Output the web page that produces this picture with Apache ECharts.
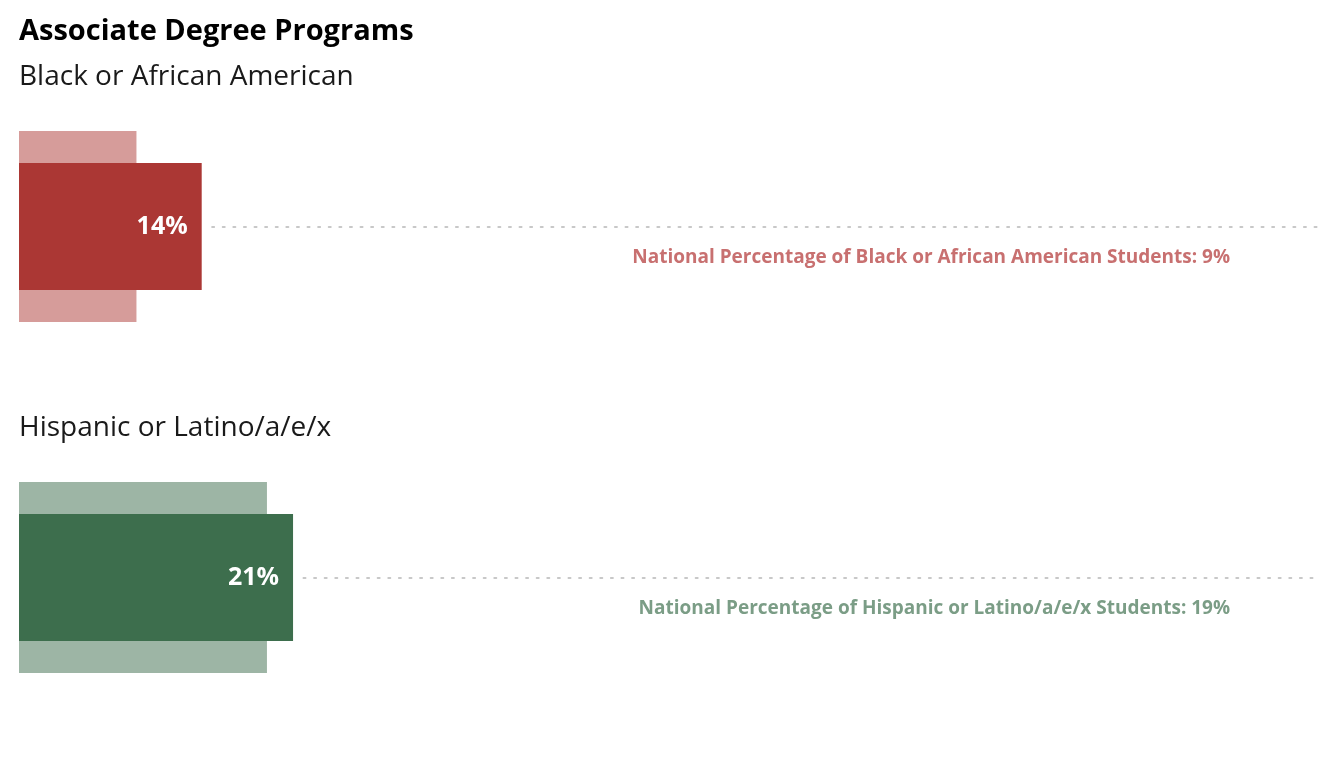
<!DOCTYPE html>
<html>
<head>
<meta charset="utf-8">
<title>Associate Degree Programs</title>
<script src="https://cdn.jsdelivr.net/npm/echarts@6/dist/echarts.min.js"></script>
<style>
  html, body { margin: 0; padding: 0; background: #fff; }
  #chart { width: 1344px; height: 768px; }
</style>
</head>
<body>
<div id="chart"></div>
<script>
// data
const groups = ['Black or African American', 'Hispanic or Latino/a/e/x'];
const programPct = [14, 21];
const nationalPct = [9, 19];
const nationalLabels = [
  'National Percentage of Black or African American Students',
  'National Percentage of Hispanic or Latino/a/e/x Students'
];

const darkColors = ['#ab3734', '#3d6e4d'];
const lightColors = ['#d69c9a', '#9db5a5'];
const noteColors = ['#c87070', '#7b9d86'];

const FONT = '"Open Sans", "Noto Sans", sans-serif';
const gridTops = [131, 482];

const chart = echarts.init(document.getElementById('chart'));

const grids = [], xAxes = [], yAxes = [], series = [];
const titles = [{
  text: 'Associate Degree Programs',
  left: 14, top: 12,
  textStyle: { fontFamily: FONT, fontSize: 29, fontWeight: 'bold', color: '#000' }
}];

groups.forEach((name, i) => {
  titles.push({
    text: name,
    left: 14, top: gridTops[i] - 73,
    textStyle: { fontFamily: FONT, fontSize: 28, fontWeight: 'normal', color: '#1a1a1a' }
  });
  grids.push({ left: 19, right: 20, top: gridTops[i], height: 191 });
  xAxes.push({ gridIndex: i, type: 'value', min: 0, max: 100, show: false });
  // two category axes per grid so both bars are centred on the same line
  yAxes.push({ gridIndex: i, type: 'category', data: [name], show: false });
  yAxes.push({ gridIndex: i, type: 'category', data: [name], show: false });

  // national percentage (light, wide)
  series.push({
    type: 'bar', xAxisIndex: i, yAxisIndex: i * 2,
    barWidth: 191,
    itemStyle: { color: lightColors[i] },
    silent: true,
    data: [nationalPct[i]]
  });
  // program percentage (dark, narrow)
  series.push({
    type: 'bar', xAxisIndex: i, yAxisIndex: i * 2 + 1,
    barWidth: 127,
    itemStyle: { color: darkColors[i] },
    silent: true,
    z: 3,
    label: {
      show: true, position: 'insideRight', distance: 14,
      formatter: '{c}%',
      fontFamily: FONT, fontSize: 25, fontWeight: 'bold', color: '#fff'
    },
    data: [programPct[i]],
    markLine: {
      silent: true, symbol: 'none',
      lineStyle: { color: '#c8c8c8', width: 2, type: [2, 8.6], cap: 'round' },
      label: {
        show: true, position: 'insideEndBottom',
        distance: [90, 22],
        formatter: nationalLabels[i] + ': ' + nationalPct[i] + '%',
        fontFamily: FONT, fontSize: 19, fontWeight: 'bold', color: noteColors[i]
      },
      data: [[
        { coord: [programPct[i] + 0.8, name] },
        { coord: [99.7, name] }
      ]]
    }
  });
});

chart.setOption({
  backgroundColor: '#fff',
  animation: false,
  title: titles,
  grid: grids,
  xAxis: xAxes,
  yAxis: yAxes,
  series: series
});

window.addEventListener('resize', () => chart.resize());
</script>
</body>
</html>
